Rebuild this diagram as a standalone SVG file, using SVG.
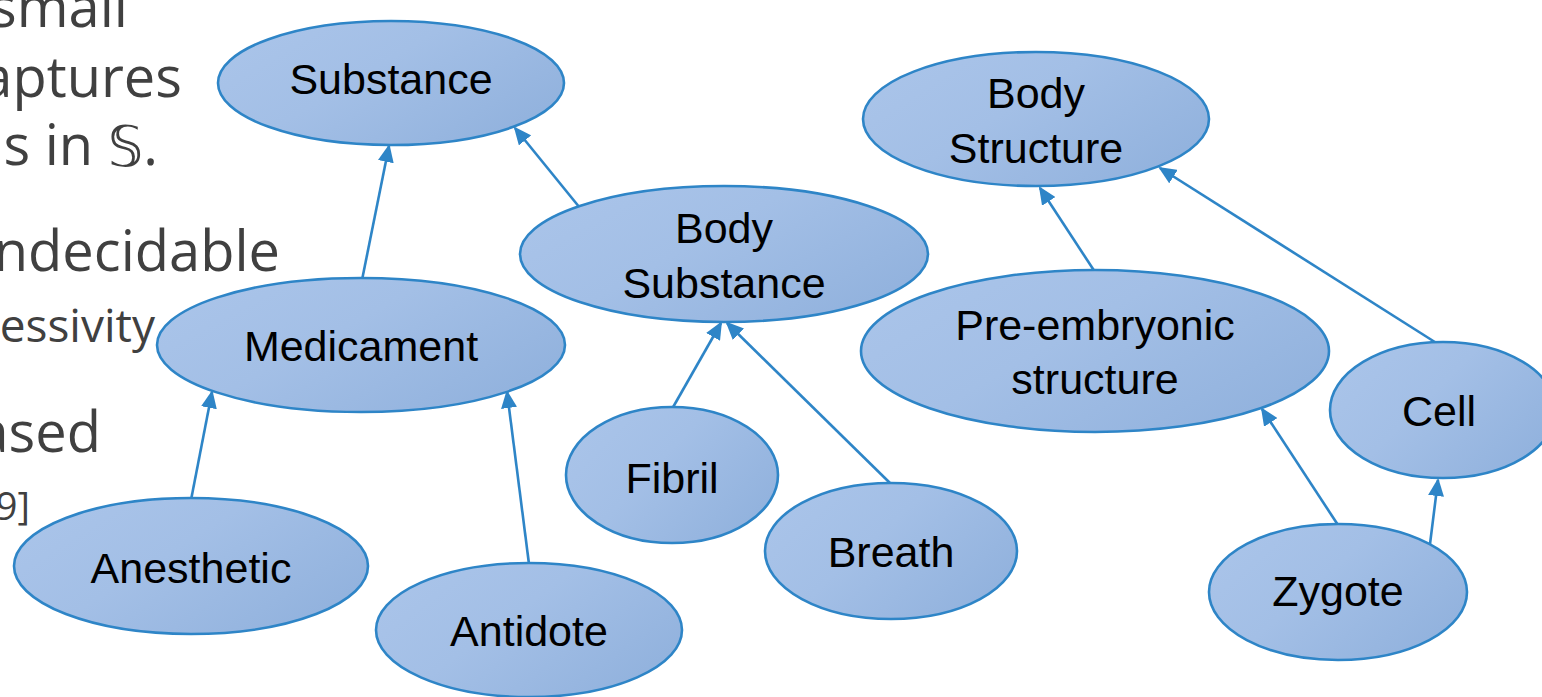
<svg xmlns="http://www.w3.org/2000/svg" width="1542" height="697" viewBox="0 0 1542 697">
<style>
.bg{font-family:"Open Sans","Noto Sans","DejaVu Sans",sans-serif;fill:#404040;text-anchor:end}
.n ellipse{fill:url(#g);stroke:#2e85c7;stroke-width:2.6}
.n text{font-family:"Liberation Sans",Arial,sans-serif;font-size:43px;fill:#000;text-anchor:middle}
.e line{stroke:#2e85c7;stroke-width:2.6;marker-end:url(#ah)}
</style>
<defs>
<linearGradient id="g" x1="0" y1="0" x2="1" y2="0.6">
<stop offset="0" stop-color="#abc5ea"/>
<stop offset="0.5" stop-color="#a3bfe6"/>
<stop offset="1" stop-color="#93b3de"/>
</linearGradient>
<marker id="ah" markerUnits="userSpaceOnUse" markerWidth="18" markerHeight="16" viewBox="0 0 18 16" refX="16" refY="8" orient="auto">
<path d="M0,0 L18,8 L0,16 Z" fill="#2e85c7"/>
</marker>
</defs>
<g id="slide-text">
<text class="bg" x="128" y="27" font-size="56">small</text>
<text class="bg" x="182" y="97" font-size="56">aptures</text>
<text class="bg" x="158" y="165" font-size="56">s in 𝕊.</text>
<text class="bg" x="280" y="271" font-size="56">ndecidable</text>
<text class="bg" x="155" y="342" font-size="46">essivity</text>
<text class="bg" x="101" y="452" font-size="56">ased</text>
<text class="bg" x="30" y="520" font-size="38">9]</text>
</g>
<g id="connectors" class="e">
<line x1="362" y1="280" x2="389" y2="146"/>
<line x1="580" y1="208" x2="515" y2="128"/>
<line x1="191" y1="500" x2="212" y2="392"/>
<line x1="529" y1="564" x2="507" y2="392"/>
<line x1="672" y1="409" x2="721" y2="323"/>
<line x1="891" y1="484" x2="727" y2="323"/>
<line x1="1095" y1="272" x2="1040" y2="188"/>
<line x1="1438" y1="344" x2="1160" y2="168"/>
<line x1="1338" y1="525" x2="1262" y2="409"/>
<line x1="1430" y1="544" x2="1438" y2="480"/>
</g>
<g id="substance" class="n"><ellipse cx="391" cy="83" rx="173" ry="62"/><text x="391" y="94">Substance</text></g>
<g id="body-substance" class="n"><ellipse cx="724" cy="254" rx="204" ry="68"/><text x="724" y="243">Body</text><text x="724" y="298">Substance</text></g>
<g id="medicament" class="n"><ellipse cx="361" cy="345" rx="204" ry="67"/><text x="361" y="361">Medicament</text></g>
<g id="body-structure" class="n"><ellipse cx="1036" cy="119" rx="173" ry="67"/><text x="1036" y="108">Body</text><text x="1036" y="163">Structure</text></g>
<g id="pre-embryonic" class="n"><ellipse cx="1095" cy="351" rx="234" ry="81"/><text x="1095" y="340">Pre-embryonic</text><text x="1095" y="394">structure</text></g>
<g id="cell" class="n"><ellipse cx="1443" cy="410" rx="113" ry="68"/><text x="1439" y="426">Cell</text></g>
<g id="fibril" class="n"><ellipse cx="672" cy="475" rx="106" ry="68"/><text x="672" y="493">Fibril</text></g>
<g id="breath" class="n"><ellipse cx="891" cy="551" rx="126" ry="68"/><text x="891" y="567">Breath</text></g>
<g id="anesthetic" class="n"><ellipse cx="191" cy="566" rx="177" ry="68"/><text x="191" y="583">Anesthetic</text></g>
<g id="antidote" class="n"><ellipse cx="529" cy="630" rx="153" ry="67"/><text x="529" y="646">Antidote</text></g>
<g id="zygote" class="n"><ellipse cx="1338" cy="592" rx="129" ry="68"/><text x="1338" y="606">Zygote</text></g>
</svg>
